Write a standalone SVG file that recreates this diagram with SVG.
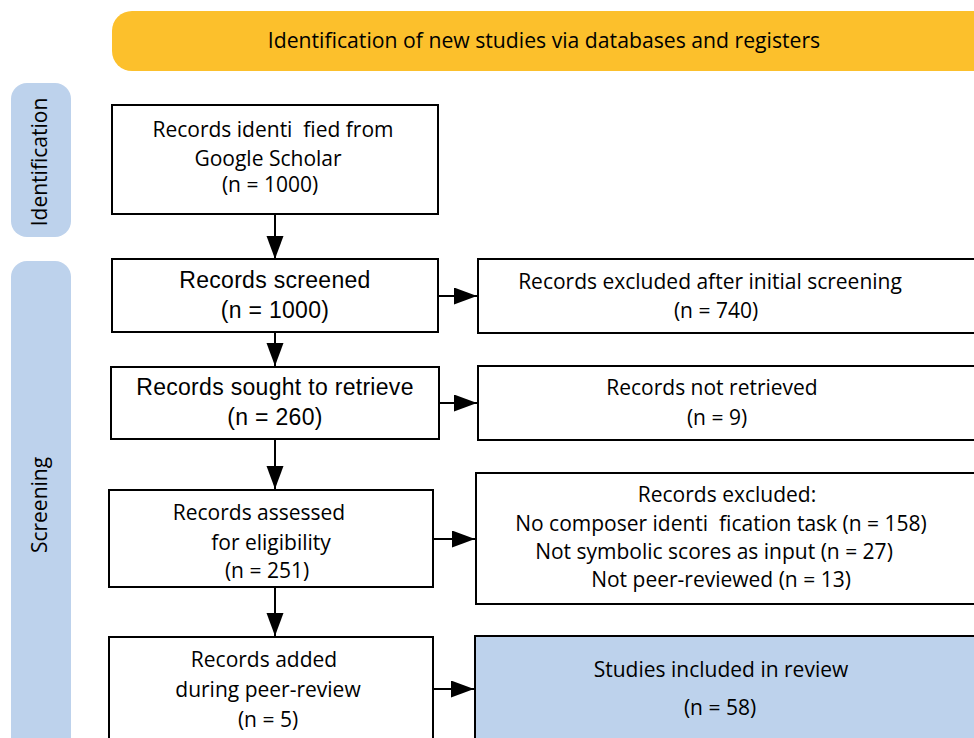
<svg xmlns="http://www.w3.org/2000/svg" width="974" height="738" viewBox="0 0 974 738">
<style>
.box{fill:#ffffff;stroke:#000000;stroke-width:2}
.blue{fill:#bdd2ec;stroke:#000000;stroke-width:2}
.side{fill:#bdd2ec}
.banner{fill:#fcc02c}
.t{font-family:"Open Sans","Noto Sans","DejaVu Sans",sans-serif;font-size:21px;fill:#000000;text-anchor:middle;white-space:pre}
.a{font-family:"Liberation Sans",Arial,sans-serif;font-size:23px;letter-spacing:0.3px;fill:#000000;text-anchor:middle}
.conn{stroke:#000000;stroke-width:2;fill:none}
</style>
<defs>
<marker id="arrow" markerUnits="userSpaceOnUse" markerWidth="24" markerHeight="18" refX="23" refY="8.5" orient="auto">
<path d="M0,0 L23,8.5 L0,17 Z" fill="#000000"/>
</marker>
</defs>
<rect width="974" height="738" fill="#ffffff"/>

<g id="banner">
<rect class="banner" x="112" y="11" width="900" height="60" rx="20" ry="20"/>
<text class="t" x="544" y="48" style="font-size:21.2px">Identification of new studies via databases and registers</text>
</g>

<g id="label-identification">
<rect class="side" x="11" y="83" width="60" height="154" rx="16" ry="16"/>
<text class="t" transform="translate(47,162) rotate(-90)" x="0" y="0">Identification</text>
</g>

<g id="label-screening">
<rect class="side" x="11" y="261" width="60" height="500" rx="16" ry="16"/>
<text class="t" transform="translate(47,505) rotate(-90)" x="0" y="0">Screening</text>
</g>

<g id="records-identified">
<rect class="box" x="112" y="105" width="326" height="109"/>
<text class="t" x="273" y="137" xml:space="preserve">Records identi  fied from</text>
<text class="t" x="268" y="166">Google Scholar</text>
<text class="t" x="270" y="192">(n = 1000)</text>
</g>

<g id="records-screened">
<rect class="box" x="112" y="259" width="326" height="73"/>
<text class="a" x="275" y="288">Records screened</text>
<text class="a" x="275" y="318">(n = 1000)</text>
</g>

<g id="records-excluded-initial">
<rect class="box" x="478" y="259" width="522" height="74"/>
<text class="t" x="710" y="289">Records excluded after initial screening</text>
<text class="t" x="716" y="318">(n = 740)</text>
</g>

<g id="records-sought">
<rect class="box" x="111" y="367" width="328" height="72"/>
<text class="a" x="275" y="395">Records sought to retrieve</text>
<text class="a" x="275" y="425">(n = 260)</text>
</g>

<g id="records-not-retrieved">
<rect class="box" x="478" y="366" width="522" height="74"/>
<text class="t" x="712" y="395">Records not retrieved</text>
<text class="t" x="717" y="425">(n = 9)</text>
</g>

<g id="records-assessed">
<rect class="box" x="109" y="490" width="324" height="97"/>
<text class="t" x="259" y="520">Records assessed</text>
<text class="t" x="271" y="550">for eligibility</text>
<text class="t" x="267" y="578">(n = 251)</text>
</g>

<g id="records-excluded">
<rect class="box" x="476" y="473" width="524" height="131"/>
<text class="t" x="727" y="502">Records excluded:</text>
<text class="t" x="721" y="531" xml:space="preserve">No composer identi  fication task (n = 158)</text>
<text class="t" x="714" y="559">Not symbolic scores as input (n = 27)</text>
<text class="t" x="721" y="587">Not peer-reviewed (n = 13)</text>
</g>

<g id="records-added">
<rect class="box" x="109" y="637" width="324" height="120"/>
<text class="t" x="264" y="667">Records added</text>
<text class="t" x="268" y="697">during peer-review</text>
<text class="t" x="268" y="727">(n = 5)</text>
</g>

<g id="studies-included">
<rect class="blue" x="475" y="636" width="525" height="121"/>
<text class="t" x="721" y="677">Studies included in review</text>
<text class="t" x="720" y="715">(n = 58)</text>
</g>

<g id="connectors">
<line class="conn" x1="275" y1="214" x2="275" y2="259" marker-end="url(#arrow)"/>
<line class="conn" x1="275" y1="332" x2="275" y2="366" marker-end="url(#arrow)"/>
<line class="conn" x1="275" y1="439" x2="275" y2="489" marker-end="url(#arrow)"/>
<line class="conn" x1="275" y1="587" x2="275" y2="636" marker-end="url(#arrow)"/>
<line class="conn" x1="438" y1="296" x2="477" y2="296" marker-end="url(#arrow)"/>
<line class="conn" x1="439" y1="403" x2="477" y2="403" marker-end="url(#arrow)"/>
<line class="conn" x1="433" y1="539" x2="475" y2="539" marker-end="url(#arrow)"/>
<line class="conn" x1="433" y1="689" x2="474" y2="689" marker-end="url(#arrow)"/>
</g>
</svg>
